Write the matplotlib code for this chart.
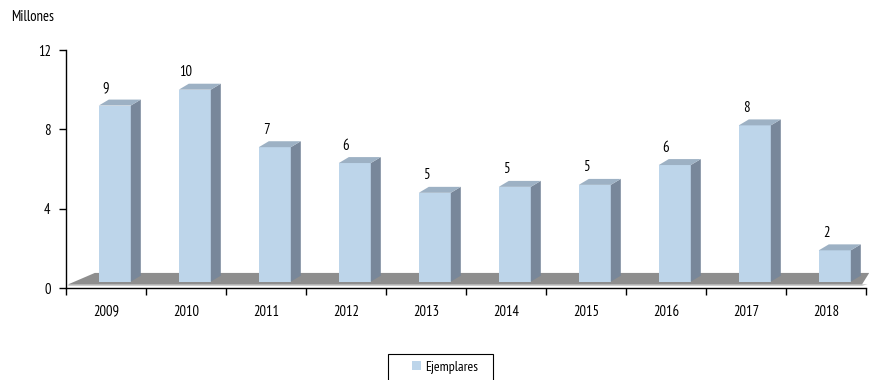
import matplotlib.pyplot as plt
from matplotlib.patches import Polygon, Patch, Rectangle
from matplotlib import font_manager as fm
import numpy as np

# Copies per year, in millions
years = ['2009', '2010', '2011', '2012', '2013', '2014', '2015', '2016', '2017', '2018']
ejemplares = [9.2, 10.0, 7.1, 6.3, 4.8, 5.1, 5.2, 6.2, 8.2, 1.9]
y_ticks = [0, 4, 8, 12]

installed = {f.name for f in fm.fontManager.ttflist}
narrow = [n for n in ['PT Sans Narrow', 'Roboto Condensed', 'Archivo Narrow',
                      'Fira Sans Condensed', 'Open Sans Condensed'] if n in installed]
plt.rcParams['font.family'] = narrow[:1] + ['DejaVu Sans']

front_col = '#bdd5ea'
side_col = '#78879a'
top_col = '#9db1c4'
floor_col = '#8e8e8e'

fig = plt.figure(figsize=(8.7, 3.8), dpi=100)
ax = fig.add_axes([66 / 870, 92 / 380, 800 / 870, 238 / 380])

x = np.arange(len(years))
base = 0.32      # bars stand on the floor, a little above zero
shift = 0.11     # front faces sit right of the category centre
width = 0.4
dx, dy = 0.125, 0.3   # depth of the fake 3D extrusion

# grey floor under the bars
ax.add_patch(Polygon([(-0.475, 0.1), (9.45, 0.1), (9.52, 0.2), (-0.46, 0.2)],
                     closed=True, fc='#cfcfcf', ec='none', clip_on=False, zorder=1))
ax.add_patch(Polygon([(-0.475, 0.18), (9.45, 0.18), (9.54, 0.76), (-0.14, 0.76)],
                     closed=True, fc=floor_col, ec='none', clip_on=False, zorder=1))

bars = ax.bar(x + shift, np.array(ejemplares) - base, width=width, bottom=base,
              color=front_col, edgecolor='none', zorder=3)

for rect, v, xc in zip(bars, ejemplares, x):
    x0 = rect.get_x()
    x1 = x0 + rect.get_width()
    side = [(x1, base), (x1 + dx, base + dy), (x1 + dx, v + dy), (x1, v)]
    top = [(x0, v), (x1, v), (x1 + dx, v + dy), (x0 + dx, v + dy)]
    ax.add_patch(Polygon(side, closed=True, fc=side_col, ec='none', zorder=3))
    ax.add_patch(Polygon(top, closed=True, fc=top_col, ec='none', zorder=3))
    ax.text(xc, v + 0.68, f'{v:.0f}', ha='center', va='baseline', fontsize=10.5,
            clip_on=False)

ax.set_xlim(-0.5, 9.5)
ax.set_ylim(0, 12)
ax.set_yticks(y_ticks)
ax.set_xticks(x)
ax.set_xticklabels(years)
ax.set_xticks(np.arange(-0.5, 10, 1), minor=True)
ax.tick_params(axis='x', which='major', length=0, pad=12, labelsize=10.5)
ax.tick_params(axis='x', which='minor', length=5, width=1, direction='out')
ax.tick_params(axis='y', length=5, width=1, pad=6, labelsize=10.5)

for s in ['top', 'right']:
    ax.spines[s].set_visible(False)
for s in ['left', 'bottom']:
    ax.spines[s].set_linewidth(1)
    ax.spines[s].set_zorder(4)

fig.text(11 / 870, 1 - 17 / 380, 'Millones', ha='left', va='center', fontsize=10.5)

# legend box runs off the bottom edge
fig.patches.append(Rectangle((388 / 870, -0.01), 105 / 870, 26.5 / 380 + 0.01,
                             transform=fig.transFigure, fc='white', ec='black',
                             lw=0.8, clip_on=False))
fig.legend(handles=[Patch(fc=front_col, ec='none', label='Ejemplares')],
           loc='center', bbox_to_anchor=(445 / 870, 1 - 367 / 380),
           frameon=False, fontsize=10, handlelength=0.7, handleheight=0.7,
           handletextpad=0.3, borderpad=0, borderaxespad=0)

fig.savefig('out.png', dpi=100)
